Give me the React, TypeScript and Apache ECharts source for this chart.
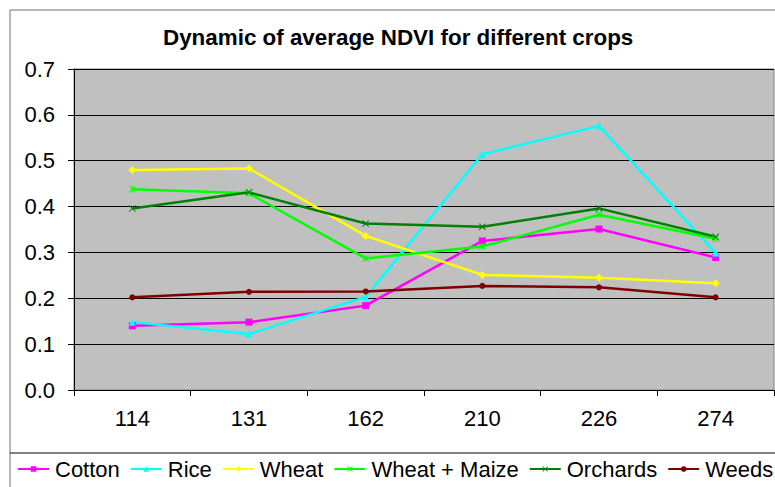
import React, { useEffect, useRef } from "react";
import * as echarts from "echarts";

const categories = ["114", "131", "162", "210", "226", "274"];
const cotton = [0.140, 0.148, 0.184, 0.325, 0.351, 0.289];
const rice = [0.148, 0.122, 0.203, 0.514, 0.576, 0.299];
const wheat = [0.480, 0.483, 0.336, 0.251, 0.245, 0.233];
const wheatMaize = [0.438, 0.429, 0.287, 0.313, 0.382, 0.330];
const orchards = [0.396, 0.431, 0.363, 0.356, 0.396, 0.334];
const weeds = [0.202, 0.214, 0.215, 0.227, 0.224, 0.202];

const FONT = "'Liberation Sans', Arial, sans-serif";
const XSYM = "path://M0,1L1,0L5,4L9,0L10,1L6,5L10,9L9,10L5,6L1,10L0,9L4,5Z";
const STAR = "path://M0,1L1,0L4.5,3.5L4.5,0L5.5,0L5.5,3.5L9,0L10,1L6,5L10,9L9,10L5.5,6.5L5.5,10L4.5,10L4.5,6.5L1,10L0,9L4,5Z";

export default function App() {
  const ref = useRef<HTMLDivElement>(null);
  useEffect(() => {
    if (!ref.current) return;
    const chart = echarts.init(ref.current, null, { renderer: "svg" });
    const mk = (name: string, data: number[], color: string, symbol: string, size = 7) => ({
      name,
      type: "line",
      data,
      symbol,
      symbolSize: size,
      showSymbol: true,
      lineStyle: { color, width: 2.5 },
      itemStyle: { color },
      z: 3,
    });
    chart.setOption({
      animation: false,
      backgroundColor: "#ffffff",
      title: {
        text: "Dynamic of average NDVI for different crops",
        left: 163,
        top: 26,
        padding: 0,
        textStyle: { fontFamily: FONT, fontSize: 22.4, fontWeight: "bold", color: "#000" },
      },
      graphic: [
        {
          type: "rect",
          shape: { x: 10, y: 10, width: 800, height: 500 },
          style: { fill: "none", stroke: "#707070", lineWidth: 1 },
          silent: true,
          z: -1,
        },
        {
          type: "line",
          shape: { x1: 10, y1: 453, x2: 800, y2: 453 },
          style: { stroke: "#000", lineWidth: 1 },
          silent: true,
        },
      ],
      legend: {
        left: 17,
        top: 458,
        width: 900,
        padding: 0,
        itemWidth: 31,
        itemHeight: 7,
        itemGap: 10,
        textStyle: { fontFamily: FONT, fontSize: 22, color: "#000", padding: [0, 0, 0, 1] },
        data: ["Cotton", "Rice", "Wheat", "Wheat + Maize", "Orchards", "Weeds"],
      },
      grid: {
        left: 74,
        top: 69,
        width: 700,
        height: 321,
        show: true,
        backgroundColor: "#C0C0C0",
        borderColor: "#808080",
        borderWidth: 1,
        containLabel: false,
      },
      xAxis: {
        type: "category",
        data: categories,
        boundaryGap: true,
        axisLine: { show: true, lineStyle: { color: "#000", width: 1 } },
        axisTick: { show: true, length: 6, lineStyle: { color: "#000" } },
        axisLabel: { fontFamily: FONT, fontSize: 22, color: "#000", margin: 17 },
        splitLine: { show: false },
      },
      yAxis: {
        type: "value",
        min: 0,
        max: 0.7,
        interval: 0.1,
        axisLine: { show: true, lineStyle: { color: "#000", width: 1 } },
        axisTick: { show: true, length: 6, lineStyle: { color: "#000" } },
        axisLabel: {
          fontFamily: FONT,
          fontSize: 22,
          color: "#000",
          margin: 19,
          formatter: (v: number) => v.toFixed(1),
        },
        splitLine: { show: true, lineStyle: { color: "#000", width: 1 } },
      },
      series: [
        mk("Cotton", cotton, "#FF00FF", "rect", 7),
        mk("Rice", rice, "#00FFFF", "triangle", 7),
        mk("Wheat", wheat, "#FFFF00", "diamond", 8),
        mk("Wheat + Maize", wheatMaize, "#00FF00", STAR, 7),
        mk("Orchards", orchards, "#008000", XSYM, 7),
        mk("Weeds", weeds, "#800000", "circle", 6),
      ],
    });
    return () => chart.dispose();
  }, []);
  return (
    <div
      ref={ref}
      style={{ position: "fixed", left: 0, top: 0, width: 775, height: 487 }}
    />
  );
}
